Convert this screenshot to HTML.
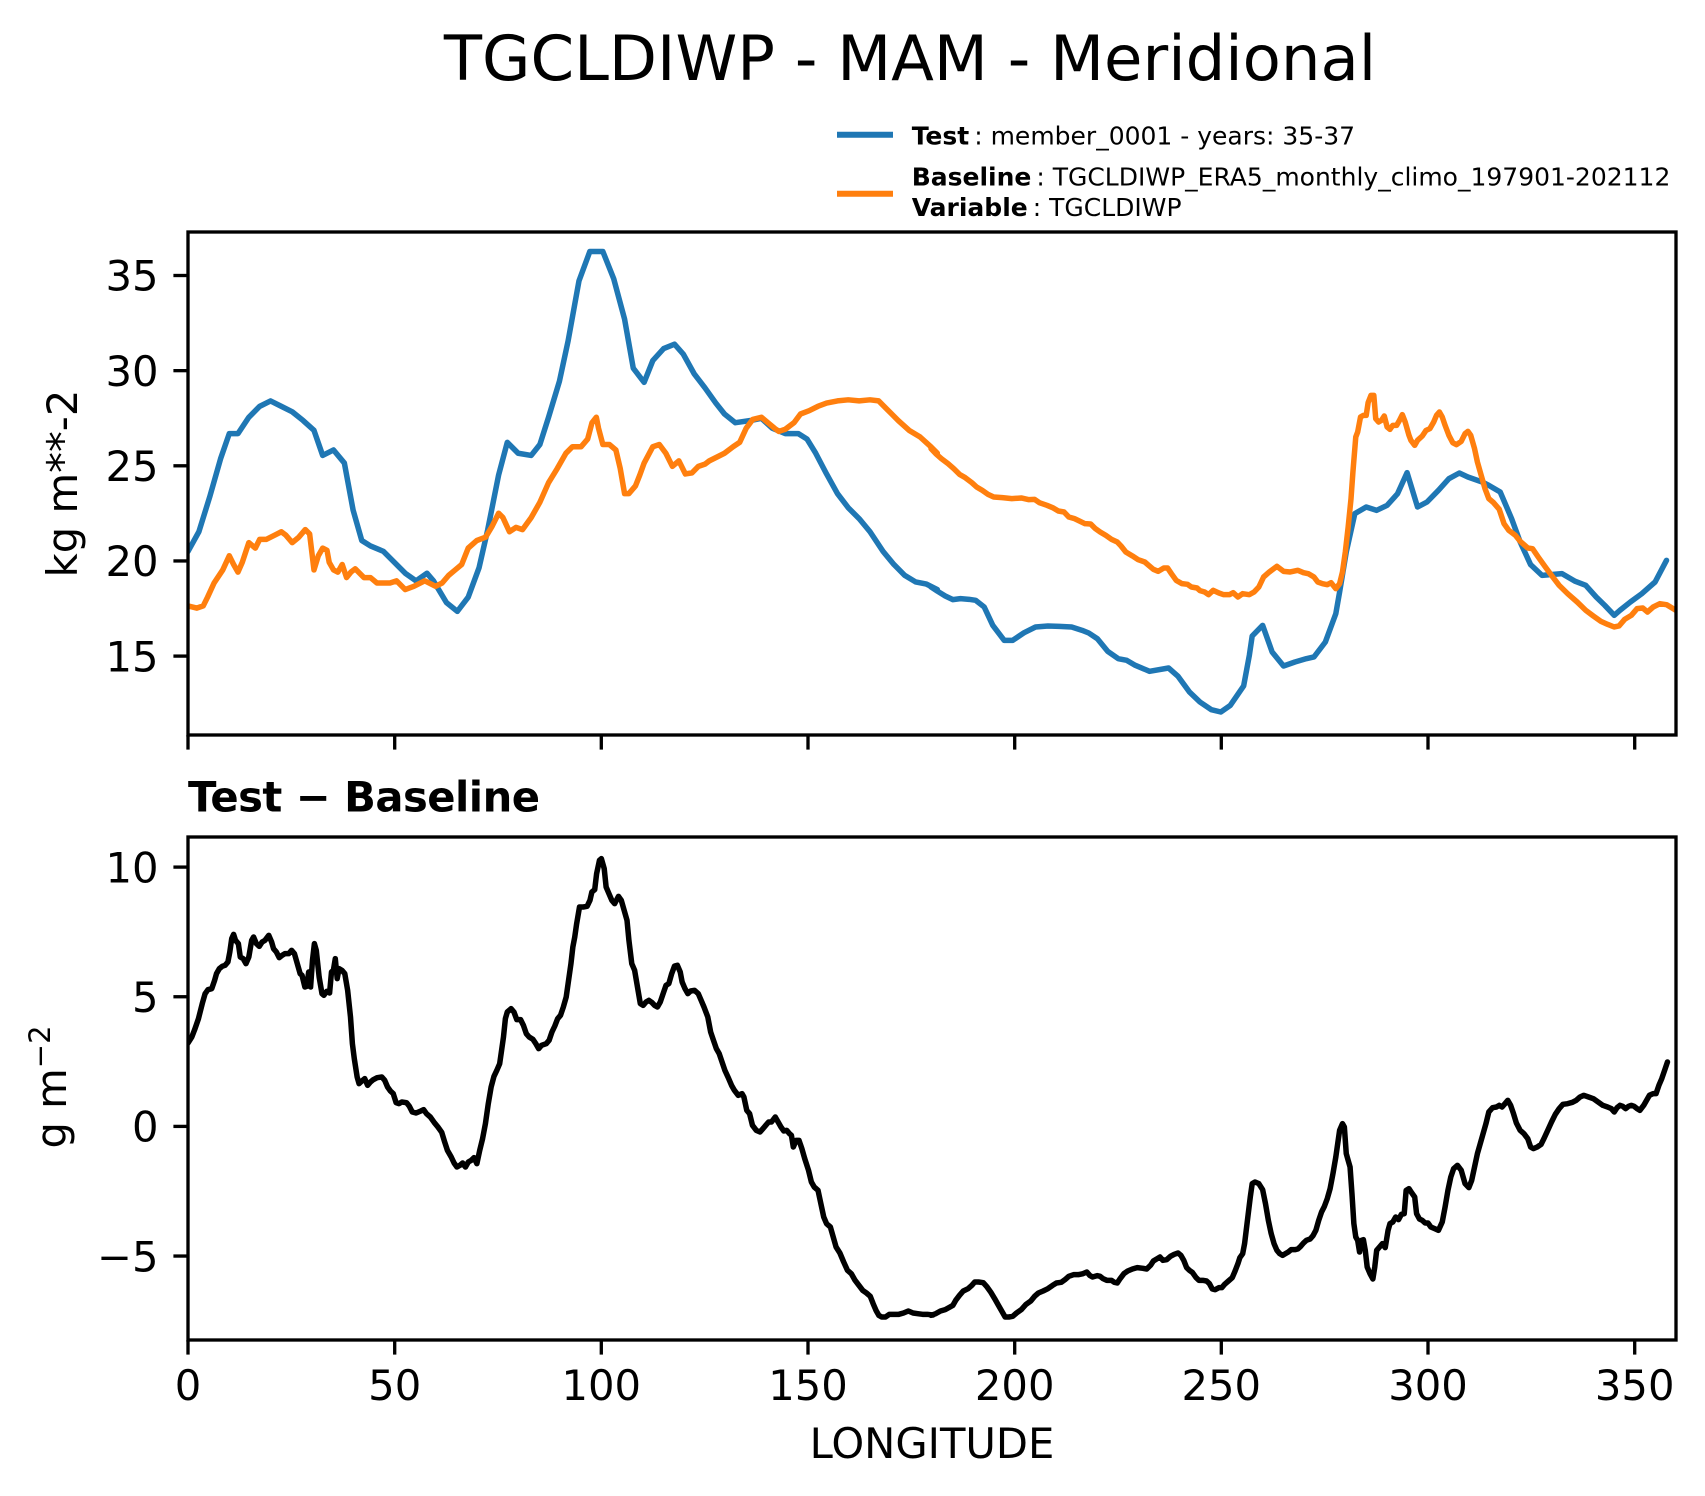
<!DOCTYPE html>
<html>
<head>
<meta charset="utf-8">
<style>
html,body{margin:0;padding:0;background:#fff;}
svg{display:block;}
text{font-family:"DejaVu Sans","Liberation Sans",sans-serif;fill:#000;}
</style>
</head>
<body>
<svg xmlns="http://www.w3.org/2000/svg" width="1705" height="1496" viewBox="0 0 1705 1496">
<defs>
<clipPath id="ct"><rect x="188" y="232" width="1488" height="503"/></clipPath>
<clipPath id="cb"><rect x="188" y="837" width="1488" height="503"/></clipPath>
</defs>
<rect x="0" y="0" width="1705" height="1496" fill="#fff"/>

<!-- Title -->
<text x="910" y="80" font-size="62.5" text-anchor="middle">TGCLDIWP - MAM - Meridional</text>

<!-- Legend -->
<line x1="837" y1="134.7" x2="893" y2="134.7" stroke="#1f77b4" stroke-width="6"/>
<text x="911.7" y="144.3" font-size="25"><tspan font-weight="bold">Test</tspan>&#8201;: member_0001 - years: 35-37</text>
<line x1="837" y1="193.7" x2="893" y2="193.7" stroke="#ff7f0e" stroke-width="6"/>
<text x="911.7" y="185.7" font-size="25"><tspan font-weight="bold">Baseline</tspan>&#8201;: TGCLDIWP_ERA5_monthly_climo_197901-202112</text>
<text x="911.7" y="216" font-size="25"><tspan font-weight="bold">Variable</tspan>&#8201;: TGCLDIWP</text>

<!-- ===== Top axes curves ===== -->
<g clip-path="url(#ct)" fill="none" stroke-linejoin="round" stroke-linecap="round">
<g transform="translate(1.21,-2.58) scale(1.086,1.0905)">
<polyline vector-effect="non-scaling-stroke" stroke="#1f77b4" stroke-width="5.5" points="172,508 182,490 192,458 202,423 210,400 218,400 228,385 238,375 248,370 258,375 268,380 278,388 288,397 296,420 306,415 316,427 324,470 332,498 340,503 352,508 362,518 372,528 382,535 392,528 398,535 410,555 420,563 430,550 440,523 448,488 458,438 466,408 476,418 488,420 496,410 504,385 514,352 522,315 532,260 542,233 554,233 564,258 574,295 582,340 592,353 600,333 610,322 620,318 628,327 638,345 648,358 658,372 666,382 676,390 690,388 700,386 710,395 722,400 734,400 742,405 750,418 760,437 770,455 780,468 790,478 800,490 812,508 822,520 832,530 842,536 852,538 862,543"/>
<polyline vector-effect="non-scaling-stroke" stroke="#ff7f0e" stroke-width="5.5" points="172,558 180,560 186,558 190,550 196,537 204,525 210,512 214,520 218,527 222,518 228,500 234,505 238,497 244,497 252,493 258,490 262,493 268,500 274,495 280,488 284,492 288,525 292,512 296,505 300,507 302,518 306,525 310,527 314,520 318,532 322,527 326,524 330,528 334,532 340,532 346,537 352,537 358,537 364,535 372,543 380,540 390,535 400,540 406,537 412,530 418,525 424,520 430,505 438,498 446,495 452,485 458,473 462,477 468,490 474,486 480,488 488,477 496,463 504,445 512,432 520,418 526,412 534,412 540,405 544,390 548,385 550,395 554,410 560,410 566,415 570,432 574,455 578,455 584,448 588,438 592,427 600,412 606,410 612,418 618,430 624,425 630,437 636,436 642,430 648,428 652,425 658,422 666,418 674,412 680,408 686,395 692,387 700,385 706,390 712,395 716,398 722,396 730,390 736,382 744,379 752,375 760,372 770,370 780,369 790,370 800,369 808,370 816,378 826,388 836,397 846,403 856,412 862,418"/>
</g>
<g transform="translate(931,232) scale(0.47513,0.33333)">
<polyline vector-effect="non-scaling-stroke" stroke="#1f77b4" stroke-width="5.5" points="0,1065 14,1078 30,1092 46,1103 62,1100 80,1102 94,1105 112,1125 130,1180 154,1225 172,1225 196,1202 220,1185 246,1182 270,1183 296,1185 318,1195 332,1203 350,1220 372,1258 394,1280 412,1285 430,1300 460,1318 500,1308 520,1333 544,1380 566,1410 590,1433 610,1440 630,1420 658,1362 670,1270 676,1212 698,1180 718,1260 742,1302 766,1290 790,1280 806,1275 830,1230 852,1145 860,1080 874,960 892,845 916,825 938,835 960,820 982,785 1002,722 1024,825 1044,810 1068,775 1090,740 1112,723 1130,735 1160,750 1174,760 1198,780 1222,860 1240,930 1262,998 1286,1030 1328,1025 1356,1048 1378,1060 1400,1095 1418,1120 1438,1150 1450,1135 1472,1110 1496,1085 1524,1050 1548,985"/>
<polyline vector-effect="non-scaling-stroke" stroke="#ff7f0e" stroke-width="5.5" points="0,650 10,665 22,680 36,695 48,710 60,727 72,737 86,752 96,765 108,775 120,787 132,795 150,797 170,800 190,798 206,803 218,802 228,812 244,820 256,827 268,837 280,840 290,855 302,860 314,868 324,875 336,876 346,890 356,900 368,910 380,922 392,930 400,942 410,960 424,972 436,983 450,990 458,1000 468,1012 478,1018 490,1008 498,1008 506,1025 516,1045 528,1055 540,1057 548,1065 560,1068 566,1076 576,1080 584,1088 594,1075 606,1083 616,1088 628,1088 636,1082 646,1095 656,1085 670,1088 680,1080 690,1065 700,1035 712,1020 728,1003 742,1018 756,1020 772,1015 784,1022 794,1025 806,1035 814,1050 824,1055 834,1058 842,1052 852,1070 860,1055 866,1020 872,960 878,885 884,800 888,720 894,615 898,600 904,555 910,550 916,550 920,512 926,490 932,490 936,560 942,570 948,565 954,552 960,585 966,592 972,580 980,580 986,565 992,548 998,570 1006,610 1010,625 1018,640 1024,625 1034,612 1042,595 1050,590 1058,570 1064,550 1070,540 1076,555 1082,580 1090,610 1098,632 1106,638 1116,628 1124,605 1130,598 1136,610 1144,650 1150,690 1158,730 1166,770 1174,800 1184,812 1196,832 1206,875 1216,895 1230,910 1240,928 1256,948 1266,950 1278,975 1292,1003 1306,1030 1322,1060 1340,1085 1360,1110 1378,1135 1394,1152 1410,1168 1424,1177 1438,1185 1448,1182 1460,1162 1474,1150 1486,1130 1498,1128 1508,1140 1520,1125 1534,1115 1548,1118 1568,1135"/>
</g>
</g>

<!-- Top axes frame & ticks -->
<rect x="188" y="232" width="1488" height="503" fill="none" stroke="#000" stroke-width="3.33"/>
<g stroke="#000" stroke-width="3.33">
<line x1="173.4" y1="275.5" x2="188" y2="275.5"/>
<line x1="173.4" y1="370.65" x2="188" y2="370.65"/>
<line x1="173.4" y1="465.8" x2="188" y2="465.8"/>
<line x1="173.4" y1="560.95" x2="188" y2="560.95"/>
<line x1="173.4" y1="656.1" x2="188" y2="656.1"/>
<line x1="188" y1="735" x2="188" y2="749.6"/>
<line x1="394.7" y1="735" x2="394.7" y2="749.6"/>
<line x1="601.3" y1="735" x2="601.3" y2="749.6"/>
<line x1="808" y1="735" x2="808" y2="749.6"/>
<line x1="1014.7" y1="735" x2="1014.7" y2="749.6"/>
<line x1="1221.3" y1="735" x2="1221.3" y2="749.6"/>
<line x1="1428" y1="735" x2="1428" y2="749.6"/>
<line x1="1634.7" y1="735" x2="1634.7" y2="749.6"/>
</g>
<g font-size="41.7" text-anchor="end">
<text x="158.5" y="290.7">35</text>
<text x="158.5" y="385.85">30</text>
<text x="158.5" y="481">25</text>
<text x="158.5" y="576.15">20</text>
<text x="158.5" y="671.3">15</text>
</g>
<text transform="translate(77,483.5) rotate(-90)" font-size="41.7" text-anchor="middle">kg m**-2</text>

<!-- Bottom title -->
<text x="188" y="811.7" font-size="41.7" font-weight="bold" textLength="352" lengthAdjust="spacing">Test − Baseline</text>

<!-- ===== Bottom axes curve ===== -->
<g clip-path="url(#cb)" fill="none" stroke-linejoin="round" stroke-linecap="round">
<g transform="translate(188,837) scale(0.47513,0.33333)">
<polyline vector-effect="non-scaling-stroke" stroke="#000" stroke-width="5.5" points="0,618 8,600 14,578 22,545 30,500 36,470 42,458 50,455 56,430 60,410 66,395 72,388 78,385 84,375 88,345 92,305 96,292 100,310 106,320 110,360 116,365 122,380 128,360 134,310 138,300 144,320 150,328 156,315 162,310 170,295 176,315 180,335 186,345 192,362 198,355 204,350 212,350 218,340 224,350 230,380 236,410 240,415 246,450 250,448 254,405 258,450 262,370 266,320 270,340 276,420 282,470 286,475 292,463 298,468 302,405 306,400 310,365 314,425 318,395 324,400 330,410 336,460 342,540 346,620 350,665 356,720 360,740 366,732 372,725 378,745 384,735 390,728 398,722 408,720 414,730 420,750 426,762 432,770 438,797 444,800 450,795 460,797 466,808 472,825 480,828 490,822 496,818 502,830 510,840 518,856 526,870 534,886 540,914 546,940 554,960 560,978 566,990 572,985 578,978 584,990 590,975 596,970 602,962 608,980 614,940 620,905 626,860 632,800 638,750 644,718 650,700 656,680 660,640 664,600 668,545 672,525 680,515 686,525 692,548 700,548 706,565 712,590 718,600 726,607 732,620 738,635 744,625 754,620 760,610 766,585 772,567 778,545 784,535 790,510 796,480 800,440 806,380 810,330 814,300 818,260 824,210 832,210 840,208 846,190 850,165 856,158 860,110 866,70 870,65 876,95 880,150 886,170 892,190 898,200 906,178 912,190 918,220 924,250 928,310 934,380 940,400 946,450 952,500 958,505 964,495 970,490 976,496 982,505 988,510 994,495 1000,470 1006,445 1012,440 1018,410 1024,387 1030,385 1036,405 1040,435 1046,455 1052,470 1058,462 1066,460 1074,470 1080,490 1086,510 1094,540 1100,585 1106,610 1112,635 1118,650 1124,675 1130,700 1138,725 1144,745 1150,760 1158,775 1166,770 1170,780 1176,820 1182,830 1188,865 1196,880 1204,885 1210,875 1216,865 1222,855 1228,855 1236,840 1242,855 1248,870 1254,882 1260,880 1266,890 1270,895 1274,930 1280,910 1286,910 1292,935 1298,965 1306,1000 1312,1035 1318,1050 1326,1060 1332,1100 1338,1140 1344,1160 1352,1170 1358,1200 1364,1230 1372,1248 1380,1275 1388,1300 1396,1310 1404,1330 1412,1345 1420,1360 1428,1368 1436,1378 1442,1400 1448,1420 1454,1435 1460,1440 1468,1440 1476,1432 1486,1432 1496,1432 1506,1428 1516,1422 1526,1428 1536,1430 1546,1432 1556,1432 1568,1434"/>
</g>
<g transform="translate(931,837) scale(0.47513,0.33333)">
<polyline vector-effect="non-scaling-stroke" stroke="#000" stroke-width="5.5" points="0,1435 10,1430 20,1422 30,1418 40,1410 46,1405 52,1390 60,1375 68,1362 78,1355 86,1345 92,1335 100,1335 110,1337 118,1350 126,1366 134,1385 142,1405 150,1425 156,1440 164,1440 172,1438 180,1428 190,1418 200,1402 210,1392 218,1378 226,1368 236,1362 246,1355 256,1345 264,1338 274,1336 282,1328 290,1318 300,1313 310,1313 320,1310 328,1305 334,1315 340,1320 350,1316 356,1318 362,1325 370,1330 380,1330 386,1336 392,1338 398,1325 406,1310 414,1302 424,1296 434,1292 446,1294 454,1296 462,1285 468,1272 476,1265 482,1260 488,1270 496,1268 504,1258 512,1252 520,1248 526,1255 532,1270 538,1292 544,1300 550,1306 558,1322 564,1330 572,1330 580,1332 586,1340 592,1356 598,1358 606,1352 612,1352 618,1342 626,1332 634,1322 640,1302 646,1280 650,1262 656,1250 660,1220 666,1150 672,1080 676,1040 682,1035 690,1040 698,1058 704,1100 710,1150 716,1190 722,1220 728,1240 734,1250 740,1255 746,1250 752,1245 758,1238 766,1238 772,1236 778,1228 784,1218 790,1210 798,1206 804,1196 810,1180 816,1150 822,1125 828,1108 834,1085 840,1055 846,1010 852,960 856,920 860,880 866,860 870,870 874,950 878,970 882,990 886,1070 890,1160 894,1200 898,1210 902,1245 906,1210 910,1208 914,1240 918,1290 924,1310 930,1326 934,1290 938,1240 944,1230 950,1220 956,1232 962,1180 966,1160 972,1155 978,1140 984,1148 990,1132 996,1130 1000,1060 1006,1055 1012,1068 1018,1080 1022,1130 1028,1146 1034,1150 1040,1158 1046,1158 1052,1170 1060,1175 1068,1180 1076,1155 1082,1110 1088,1060 1094,1020 1100,995 1108,985 1116,1000 1124,1040 1132,1052 1138,1030 1144,990 1150,950 1156,920 1162,890 1168,860 1174,825 1182,812 1190,810 1196,805 1202,810 1208,800 1214,790 1220,805 1226,830 1232,858 1240,880 1248,890 1256,905 1262,930 1268,935 1276,930 1284,922 1290,905 1298,880 1306,855 1314,832 1322,815 1330,802 1340,800 1350,796 1358,790 1366,780 1374,775 1384,780 1394,785 1404,795 1414,805 1424,810 1432,815 1438,825 1444,812 1450,805 1456,808 1462,815 1468,808 1474,805 1480,808 1486,815 1492,820 1500,805 1506,790 1512,775 1520,770 1526,770 1532,745 1538,725 1544,700 1550,675"/>
</g>
</g>

<!-- Bottom axes frame & ticks -->
<rect x="188" y="837" width="1488" height="503" fill="none" stroke="#000" stroke-width="3.33"/>
<g stroke="#000" stroke-width="3.33">
<line x1="173.4" y1="867.1" x2="188" y2="867.1"/>
<line x1="173.4" y1="996.75" x2="188" y2="996.75"/>
<line x1="173.4" y1="1126.4" x2="188" y2="1126.4"/>
<line x1="173.4" y1="1256.05" x2="188" y2="1256.05"/>
<line x1="188" y1="1340" x2="188" y2="1354.6"/>
<line x1="394.7" y1="1340" x2="394.7" y2="1354.6"/>
<line x1="601.3" y1="1340" x2="601.3" y2="1354.6"/>
<line x1="808" y1="1340" x2="808" y2="1354.6"/>
<line x1="1014.7" y1="1340" x2="1014.7" y2="1354.6"/>
<line x1="1221.3" y1="1340" x2="1221.3" y2="1354.6"/>
<line x1="1428" y1="1340" x2="1428" y2="1354.6"/>
<line x1="1634.7" y1="1340" x2="1634.7" y2="1354.6"/>
</g>
<g font-size="41.7" text-anchor="end">
<text x="158.5" y="882.3">10</text>
<text x="158.5" y="1011.95">5</text>
<text x="158.5" y="1141.6">0</text>
<text x="158.5" y="1271.25">−5</text>
</g>
<g font-size="41.7" text-anchor="middle">
<text x="188" y="1400">0</text>
<text x="394.7" y="1400">50</text>
<text x="601.3" y="1400">100</text>
<text x="808" y="1400">150</text>
<text x="1014.7" y="1400">200</text>
<text x="1221.3" y="1400">250</text>
<text x="1428" y="1400">300</text>
<text x="1634.7" y="1400">350</text>
</g>
<text x="932" y="1458" font-size="41.7" text-anchor="middle">LONGITUDE</text>
<text transform="translate(66,1087) rotate(-90)" font-size="41.7" text-anchor="middle">g m<tspan font-size="29" dy="-16">−2</tspan></text>
</svg>
</body>
</html>
